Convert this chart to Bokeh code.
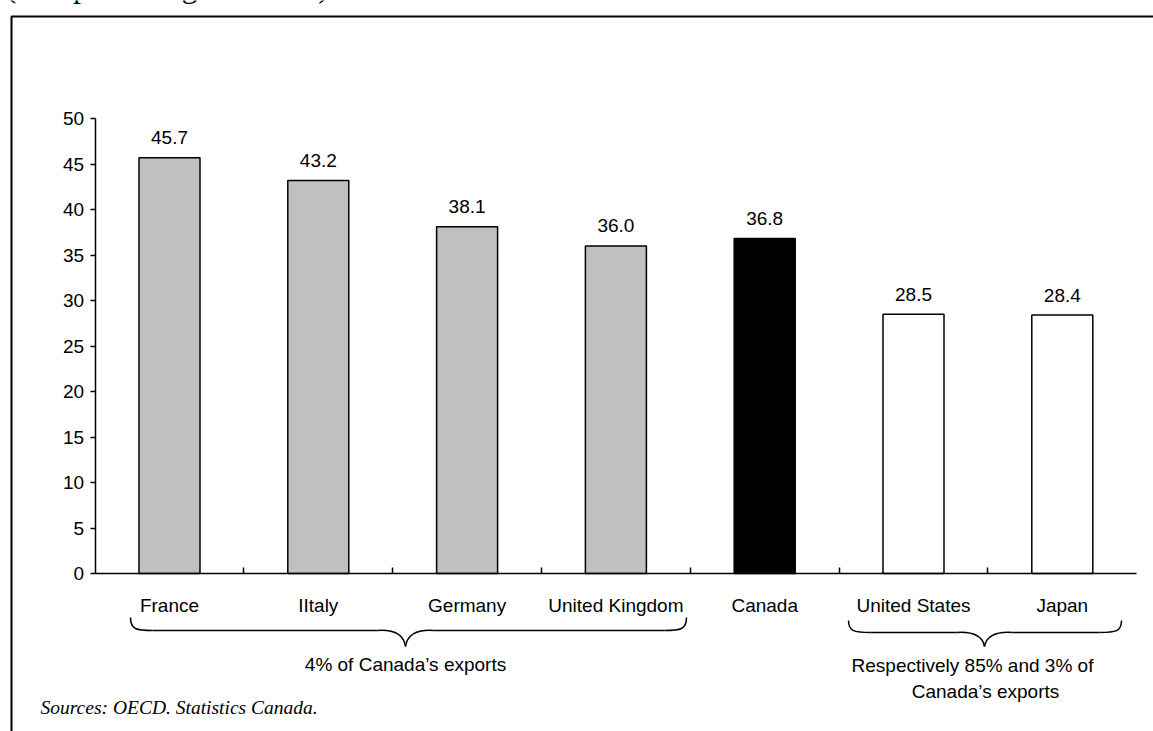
from bokeh.plotting import figure
from bokeh.models import Range1d, LinearAxis, FixedTicker, ColumnDataSource
from bokeh.core.properties import value
from bokeh.embed import file_html
from bokeh.resources import INLINE

# ---------------- data ----------------
countries = ["France", "IItaly", "Germany", "United Kingdom", "Canada", "United States", "Japan"]
shares = [45.7, 43.2, 38.1, 36.0, 36.8, 28.5, 28.4]
y_ticks = [0, 5, 10, 15, 20, 25, 30, 35, 40, 45, 50]
subtitle = "(as a percentage of GDP)"
group_left_note = "4% of Canada\u2019s exports"
group_right_note = ["Respectively 85% and 3% of", "Canada\u2019s exports"]
source_note = "Sources: OECD. Statistics Canada."

# ---------------- style ----------------
bar_colors = ["#C0C0C0"] * 4 + ["#000000"] + ["#FFFFFF"] * 2
SANS = "Liberation Sans"
SERIF = "Liberation Serif"
FS = "19px"

W, H = 1153, 731
X0_PX, X_STEP = 169.0, 148.8      # pixel of first category centre, pixels per category
Y0_PX, Y_UNIT = 573.0, 9.1        # pixel row of value 0, pixels per unit

idx = list(range(len(countries)))

p = figure(
    width=W, height=H,
    x_range=Range1d(-X0_PX / X_STEP, (W - X0_PX) / X_STEP),
    y_range=Range1d(-(H - Y0_PX) / Y_UNIT, Y0_PX / Y_UNIT),
    x_axis_type=None, y_axis_type=None,
    output_backend="svg", toolbar_location=None,
    min_border=0,
)
p.title.visible = False
p.outline_line_color = None
p.background_fill_color = "white"
p.border_fill_color = "white"
p.extra_x_ranges = {"px": Range1d(0, W)}
p.extra_y_ranges = {"px": Range1d(H, 0)}

src = ColumnDataSource(dict(
    x=idx, top=shares, color=bar_colors,
    lbl=[f"{v:.1f}" for v in shares],
))

# bars
p.vbar(x="x", top="top", bottom=0, width=0.41, source=src,
       fill_color="color", line_color="black", line_width=1.5)

# value labels
p.text(x="x", y="top", text="lbl", source=src, y_offset=-20,
       text_align="center", text_baseline="alphabetic",
       text_font=value(SANS), text_font_size=FS, text_color="black")

# y axis
yax = LinearAxis(
    fixed_location=-0.5, bounds=(0, 50),
    ticker=FixedTicker(ticks=y_ticks, minor_ticks=[]),
    major_tick_in=0, major_tick_out=5, minor_tick_in=0, minor_tick_out=0,
    major_label_standoff=6,
    axis_line_width=1.5, major_tick_line_width=1.5,
    major_label_text_font=SANS, major_label_text_font_size=FS,
    major_label_text_color="black",
)
p.add_layout(yax, "left")

# x axis line with separator ticks
n = len(countries)
sep_ax = LinearAxis(
    fixed_location=0, bounds=(-0.5, n - 0.5),
    ticker=FixedTicker(ticks=[i + 0.5 for i in range(n - 1)], minor_ticks=[]),
    major_tick_in=6, major_tick_out=0, minor_tick_in=0, minor_tick_out=0,
    axis_line_width=1.5, major_tick_line_width=1.5,
    major_label_text_color=None,
)
p.add_layout(sep_ax, "below")

# category labels
cat_ax = LinearAxis(
    fixed_location=0,
    ticker=FixedTicker(ticks=idx, minor_ticks=[]),
    major_label_overrides={i: c for i, c in enumerate(countries)},
    axis_line_color=None, major_tick_line_color=None, minor_tick_line_color=None,
    major_tick_in=0, major_tick_out=0,
    major_label_standoff=21,
    major_label_text_font=SANS, major_label_text_font_size=FS,
    major_label_text_color="black",
)
p.add_layout(cat_ax, "below")

# ---------------- decorations in pixel space ----------------
PX = dict(x_range_name="px", y_range_name="px")

# outer frame (left and top edges)
p.line(x=[11, 11, W + 20], y=[H + 20, 16, 16], line_color="black", line_width=2, **PX)

# clipped subtitle at the very top (only its descenders show, as in the source)
p.text(x=[5], y=[1], y_offset=-16, text=[subtitle], text_align="left", text_baseline="alphabetic",
       text_font=value(SERIF), text_font_size="32px", text_color="black", **PX)


def brace(xl, xr, xc, yt, ym, yb):
    segs = []
    segs.append(((xl, yt), (xl + 22, ym), (xl, ym - 1), (xl + 6, ym)))
    segs.append(((xl + 22, ym), (xc - 28, ym), (xl + 22, ym), (xc - 28, ym)))
    segs.append(((xc - 28, ym), (xc, yb), (xc - 12, ym - 1), (xc - 2, ym + 3)))
    segs.append(((xc, yb), (xc + 28, ym), (xc + 2, ym + 3), (xc + 12, ym - 1)))
    segs.append(((xc + 28, ym), (xr - 22, ym), (xc + 28, ym), (xr - 22, ym)))
    segs.append(((xr - 22, ym), (xr, yt), (xr - 6, ym), (xr, ym - 1)))
    return segs


for segs in (brace(130, 686, 405, 617, 630, 646), brace(848, 1121, 984, 620, 632, 646)):
    p.bezier(
        x0=[s[0][0] for s in segs], y0=[s[0][1] for s in segs],
        x1=[s[1][0] for s in segs], y1=[s[1][1] for s in segs],
        cx0=[s[2][0] for s in segs], cy0=[s[2][1] for s in segs],
        cx1=[s[3][0] for s in segs], cy1=[s[3][1] for s in segs],
        line_color="black", line_width=1.5, **PX,
    )

p.text(x=[405], y=[664], text=[group_left_note], text_align="center", text_baseline="alphabetic",
       text_font=value(SANS), text_font_size=FS, text_color="black", **PX)
p.text(x=[972, 985], y=[665, 691], text=group_right_note, text_align="center",
       text_baseline="alphabetic",
       text_font=value(SANS), text_font_size=FS, text_color="black", **PX)
p.text(x=[40], y=[707], text=[source_note], text_align="left", text_baseline="alphabetic",
       text_font=value(SERIF), text_font_style="italic", text_font_size="19.5px",
       text_color="black", **PX)

open("out.html", "w").write(file_html(p, INLINE))
